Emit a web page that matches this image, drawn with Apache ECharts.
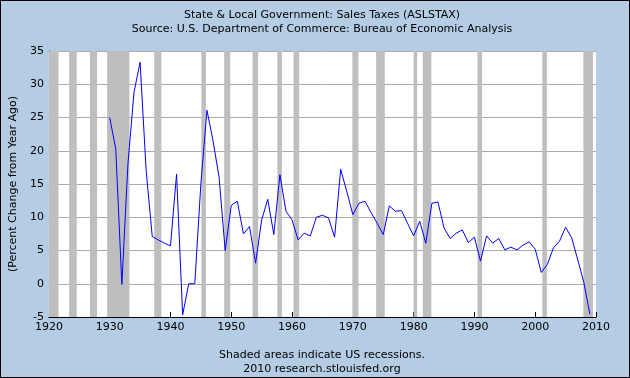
<!DOCTYPE html>
<html>
<head>
<meta charset="utf-8">
<script src="https://cdn.jsdelivr.net/npm/echarts@6/dist/echarts.min.js"></script>
<style>
html,body{margin:0;padding:0;background:#b4cce4;}
#c{width:630px;height:378px;}
</style>
</head>
<body>
<div id="c"></div>
<script>
var years = [1930,1931,1932,1933,1934,1935,1936,1937,1938,1939,
  1940,1941,1942,1943,1944,1945,1946,1947,1948,1949,
  1950,1951,1952,1953,1954,1955,1956,1957,1958,1959,
  1960,1961,1962,1963,1964,1965,1966,1967,1968,1969,
  1970,1971,1972,1973,1974,1975,1976,1977,1978,1979,
  1980,1981,1982,1983,1984,1985,1986,1987,1988,1989,
  1990,1991,1992,1993,1994,1995,1996,1997,1998,1999,
  2000,2001,2002,2003,2004,2005,2006,2007,2008,2009];
var values = [25.0,20.3,-0.1,18.0,28.8,33.3,17.0,7.1,6.6,6.1,
  5.7,16.5,-4.7,0.0,0.0,15.0,26.1,21.5,16.0,5.0,
  11.8,12.4,7.5,8.6,3.1,9.6,12.7,7.4,16.4,10.9,
  9.6,6.6,7.6,7.2,10.0,10.3,9.9,7.0,17.2,13.9,
  10.4,12.1,12.4,10.7,9.1,7.4,11.7,10.9,11.0,9.1,
  7.2,9.4,6.1,12.1,12.3,8.4,6.8,7.6,8.1,6.2,
  7.0,3.4,7.2,6.1,6.8,5.1,5.5,5.1,5.8,6.3,
  5.2,1.7,2.9,5.4,6.4,8.5,6.9,3.6,0.2,-4.6];
var recessionStart = [1920.0,1923.33,1926.75,1929.58,1937.33,1945.08,1948.83,1953.5,1957.58,1960.25,1969.92,1973.83,1980.0,1981.5,1990.5,2001.17,2007.92];
var recessionEnd   = [1921.58,1924.58,1927.92,1933.25,1938.5,1945.83,1949.83,1954.42,1958.33,1961.17,1970.92,1975.25,1980.58,1982.92,1991.25,2001.92,2009.5];
var yTicks = {min:-5, max:35, step:5};
var xTicks = {min:1920, max:2010, step:10};
var titleLines = ['State & Local Government: Sales Taxes (ASLSTAX)','Source: U.S. Department of Commerce: Bureau of Economic Analysis'];
var footerLines = ['Shaded areas indicate US recessions.','2010 research.stlouisfed.org'];
var yAxisTitle = '(Percent Change from Year Ago)';

var lineData = years.map(function(y,i){return [y, values[i]];});
var areas = recessionStart.map(function(s,i){return [{xAxis:s},{xAxis:recessionEnd[i]}];});
var font = 'DejaVu Sans';

var chart = echarts.init(document.getElementById('c'), null, {renderer:'canvas'});
chart.setOption({
  backgroundColor:'#b4cce4',
  animation:false,
  textStyle:{fontFamily:font},
  title:[
    {text:titleLines[0], left:317, top:5, textAlign:'center', textStyle:{fontFamily:font,fontSize:11,fontWeight:'normal',color:'#000'}},
    {text:titleLines[1], left:317, top:19, textAlign:'center', textStyle:{fontFamily:font,fontSize:11,fontWeight:'normal',color:'#000'}},
    {text:footerLines[0], left:317, top:345, textAlign:'center', textStyle:{fontFamily:font,fontSize:11,fontWeight:'normal',color:'#000'}},
    {text:footerLines[1], left:317, top:359, textAlign:'center', textStyle:{fontFamily:font,fontSize:11,fontWeight:'normal',color:'#000'}}
  ],
  grid:{left:45, right:34, top:51, bottom:61, show:true, backgroundColor:'#ffffff', borderWidth:0},
  xAxis:{
    type:'value', min:xTicks.min, max:xTicks.max, interval:xTicks.step,
    axisLine:{show:true, onZero:false, lineStyle:{color:'#000', width:1}},
    axisTick:{show:true, inside:true, length:5, lineStyle:{color:'#000'}},
    axisLabel:{color:'#000', fontSize:11, fontFamily:font, margin:5, formatter:function(v){return String(v);}},
    splitLine:{show:false}
  },
  yAxis:{
    type:'value', min:yTicks.min, max:yTicks.max, interval:yTicks.step,
    name:yAxisTitle, nameLocation:'middle', nameGap:25,
    nameTextStyle:{color:'#000', fontSize:11, fontFamily:font},
    axisLine:{show:true, onZero:false, lineStyle:{color:'#000', width:1}},
    axisTick:{show:true, inside:true, length:5, lineStyle:{color:'#000'}},
    axisLabel:{color:'#000', fontSize:11, fontFamily:font, margin:5},
    splitLine:{show:true, lineStyle:{color:'#aaaaaa', width:1}}
  },
  series:[{
    type:'line', data:lineData, symbol:'none', smooth:false,
    lineStyle:{color:'#0000ff', width:1},
    markArea:{silent:true, itemStyle:{color:'#bebebe', opacity:1}, data:areas},
    z:3
  }],
  graphic:[{type:'rect', shape:{x:0,y:0,width:630,height:378}, style:{fill:'none', stroke:'#000', lineWidth:2}, silent:true}]
});
</script>
</body>
</html>
